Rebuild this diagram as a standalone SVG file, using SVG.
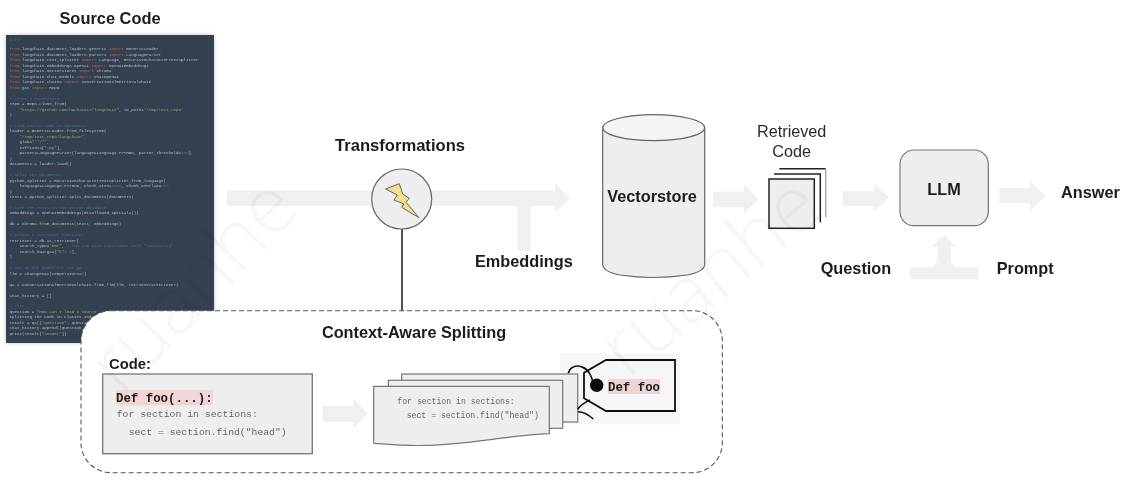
<svg xmlns="http://www.w3.org/2000/svg" width="1129" height="480" viewBox="0 0 1129 480">
<defs>
<style>
.b{font-family:"Liberation Sans",Arial,sans-serif;font-weight:700;font-size:16.3px;fill:#1c1c1c}
.r{font-family:"Liberation Sans",Arial,sans-serif;font-size:16.2px;fill:#2a2a2a}
.m{font-family:"Liberation Mono","Courier New",monospace;fill:#666}
.mb{font-family:"Liberation Mono","Courier New",monospace;font-weight:700;font-size:12.4px;fill:#1c1c1c}
.arrow{fill:#f0f0f0;stroke:none}
.page{fill:#eeeeee;stroke:#777;stroke-width:1.2}
.c text{font-family:"Liberation Mono",monospace;font-size:4.15px;fill:#b9bec5}
.c .k{fill:#b9634e}
.c .h{fill:#46709e}
.c .s{fill:#98ab72}
.wm{font-family:"Open Sans","Liberation Sans",sans-serif;font-weight:300;font-size:80px;fill:#000;fill-opacity:.035}
</style>
<filter id="soft" x="-5%" y="-5%" width="110%" height="110%"><feGaussianBlur stdDeviation="0.3"/></filter>
<filter id="page-soft" filterUnits="userSpaceOnUse" x="0" y="0" width="1129" height="480"><feGaussianBlur stdDeviation="0.35"/></filter>
<filter id="shadow" x="-5%" y="-5%" width="110%" height="110%"><feGaussianBlur stdDeviation="2"/></filter>
</defs>
<rect width="1129" height="480" fill="#fff"/>
<g filter="url(#page-soft)">

<g id="source-code">
<text class="b" x="110" y="23.5" text-anchor="middle" style="font-size:16.4px">Source Code</text>
<rect x="6" y="35" width="208" height="308" fill="#999" opacity=".6" filter="url(#shadow)"/>
<rect x="6" y="35" width="208" height="308" fill="#323f50"/>
<g class="c" filter="url(#soft)">
<circle cx="11" cy="39.5" r="1.1" fill="none" stroke="#5a6675" stroke-width=".5"/><circle cx="15" cy="39.5" r="1.1" fill="none" stroke="#5a6675" stroke-width=".5"/><circle cx="19" cy="39.5" r="1.1" fill="none" stroke="#5a6675" stroke-width=".5"/>
<text x="9.5" y="50.3"><tspan class="k">from</tspan> langchain.document_loaders.generic <tspan class="k">import</tspan> GenericLoader</text>
<text x="9.5" y="55.8"><tspan class="k">from</tspan> langchain.document_loaders.parsers <tspan class="k">import</tspan> LanguageParser</text>
<text x="9.5" y="61.2"><tspan class="k">from</tspan> langchain.text_splitter <tspan class="k">import</tspan> Language, RecursiveCharacterTextSplitter</text>
<text x="9.5" y="66.7"><tspan class="k">from</tspan> langchain.embeddings.openai <tspan class="k">import</tspan> OpenAIEmbeddings</text>
<text x="9.5" y="72.2"><tspan class="k">from</tspan> langchain.vectorstores <tspan class="k">import</tspan> Chroma</text>
<text x="9.5" y="77.7"><tspan class="k">from</tspan> langchain.chat_models <tspan class="k">import</tspan> ChatOpenAI</text>
<text x="9.5" y="83.1"><tspan class="k">from</tspan> langchain.chains <tspan class="k">import</tspan> ConversationalRetrievalChain</text>
<text x="9.5" y="88.6"><tspan class="k">from</tspan> git <tspan class="k">import</tspan> Repo</text>
<text x="9.5" y="99.5" class="h"># Clone a repository</text>
<text x="9.5" y="105">repo = Repo.clone_from(</text>
<text x="19.5" y="110.5"><tspan class="s">"https://github.com/hwchase17/langchain"</tspan>, to_path=<tspan class="s">'/tmp/test_repo'</tspan></text>
<text x="9.5" y="116">)</text>
<text x="9.5" y="126.9" class="h"># Load source code as documents</text>
<text x="9.5" y="132.4">loader = GenericLoader.from_filesystem(</text>
<text x="19.5" y="137.8" class="s">"/tmp/test_repo/langchain",</text>
<text x="19.5" y="143.3">glob=<tspan class="s">"**/*"</tspan>,</text>
<text x="19.5" y="148.8">suffixes=[<tspan class="s">".py"</tspan>],</text>
<text x="19.5" y="154.3">parser=LanguageParser(language=Language.PYTHON, parser_threshold=<tspan class="h">500</tspan>),</text>
<text x="9.5" y="159.7">)</text>
<text x="9.5" y="165.2">documents = loader.load()</text>
<text x="9.5" y="176.1" class="h"># Split the documents</text>
<text x="9.5" y="181.6">python_splitter = RecursiveCharacterTextSplitter.from_language(</text>
<text x="19.5" y="187.1">language=Language.PYTHON, chunk_size=<tspan class="h">2000</tspan>, chunk_overlap=<tspan class="h">200</tspan></text>
<text x="9.5" y="192.5">)</text>
<text x="9.5" y="198">texts = python_splitter.split_documents(documents)</text>
<text x="9.5" y="209" class="h"># Save the texts in the vector database</text>
<text x="9.5" y="214.4">embeddings = OpenAIEmbeddings(disallowed_special=())</text>
<text x="9.5" y="225.3">db = Chroma.from_documents(texts, embeddings)</text>
<text x="9.5" y="236.3" class="h"># Create a retriever function</text>
<text x="9.5" y="241.8">retriever = db.as_retriever(</text>
<text x="19.5" y="247.2">search_type=<tspan class="s">"mmr"</tspan>,  <tspan class="h"># You can also experiment with "similarity"</tspan></text>
<text x="19.5" y="252.7">search_kwargs={<tspan class="s">"k"</tspan>: <tspan class="h">8</tspan>},</text>
<text x="9.5" y="258.2">)</text>
<text x="9.5" y="269" class="h"># Set up the model for the QA</text>
<text x="9.5" y="274.5">llm = ChatOpenAI(temperature=<tspan class="h">0</tspan>)</text>
<text x="9.5" y="285.5">qa = ConversationalRetrievalChain.from_llm(llm, retriever=retriever)</text>
<text x="9.5" y="296.5">chat_history = []</text>
<text x="9.5" y="307.4" class="h"># Test</text>
<text x="9.5" y="312.9">question = <tspan class="s">"How can I load a source</tspan></text>
<text x="9.5" y="318.4">splitting the code in classes and</text>
<text x="9.5" y="323.8">result = qa({<tspan class="s">"question"</tspan>: question</text>
<text x="9.5" y="329.3">chat_history.append((question,</text>
<text x="9.5" y="334.7">print(result[<tspan class="s">"answer"</tspan>])</text>
</g>
</g>

<g id="context-aware-splitting">
<rect x="81" y="310.7" width="641.3" height="162" rx="30" fill="#fff" stroke="#555" stroke-width="1.1" stroke-dasharray="5 3"/>
<text class="b" x="414" y="337.7" text-anchor="middle">Context-Aware Splitting</text>
<text class="b" x="109" y="369.3" style="font-size:14.8px">Code:</text>
</g>

<g id="connectors">
<path class="arrow" d="M227 190.5H555V182.7L570 198.2L555 212.3V205.7H536Q530.7 205.7 530.7 211V250.7H517.3V211Q517.3 205.7 512 205.7H227Z"/>
<path class="arrow" d="M713 191.7H744V184L758 199L744 214V206.7H713Z"/>
<path class="arrow" d="M842.7 191H874V183L889 197.5L874 212V206H842.7Z"/>
<path class="arrow" d="M999.3 188.3H1030V181L1045.7 196L1030 211V203.3H999.3Z"/>
<path class="arrow" d="M944.3 235L956 246.7H950.7V258Q950.7 267.3 960 267.3H978.3V279H910V267.3H928.5Q937.7 267.3 937.7 258V246.7H931.7Z"/>
<path class="arrow" d="M322.7 406H353.3V399L367.7 414L353.3 428.7V421.7H322.7Z"/>
</g>

<g id="transformations">
<text class="b" x="400" y="150.7" text-anchor="middle" style="font-size:16.6px">Transformations</text>
<line x1="402" y1="229" x2="402" y2="311" stroke="#555" stroke-width="2"/>
<circle cx="401.7" cy="199" r="30" fill="#eeeeee" stroke="#666" stroke-width="1.2"/>
<path d="M385.7 189L399.3 183.7L402.7 194L409.3 198.3L406 202.3L419 217.7L401.7 207.3L404 204L394 200L397.3 195Z" fill="#f5e08e" stroke="#666" stroke-width="1"/>
</g>

<g id="embeddings"><text class="b" x="475" y="267">Embeddings</text></g>

<g id="vectorstore">
<path d="M602.7 127.7V265Q604 272 620 275Q653.7 280 687 275Q703.5 272 704.7 265V127.7" fill="#eeeeee" stroke="#666" stroke-width="1.2"/>
<ellipse cx="653.7" cy="127.7" rx="51" ry="13" fill="#f4f4f4" stroke="#666" stroke-width="1.2"/>
<text class="b" x="652" y="201.7" text-anchor="middle">Vectorstore</text>
</g>

<g id="retrieved-code">
<text class="r" x="791.7" y="136.7" text-anchor="middle">Retrieved</text>
<text class="r" x="791.7" y="157.3" text-anchor="middle">Code</text>
<path d="M779.3 168.7H825.7" fill="none" stroke="#222" stroke-width="1.4"/>
<path d="M825.7 168.7V217.3" fill="none" stroke="#8fa878" stroke-width="1.2"/>
<path d="M774 174H820.3V222.3" fill="none" stroke="#222" stroke-width="1.5"/>
<rect x="769" y="179" width="45.3" height="49.3" fill="#eeeeee" stroke="#222" stroke-width="1.5"/>
</g>

<g id="llm">
<rect x="900" y="150" width="88.3" height="75.7" rx="14" fill="#eeeeee" stroke="#777" stroke-width="1.2"/>
<text class="b" x="944" y="195" text-anchor="middle">LLM</text>
</g>
<g id="answer"><text class="b" x="1061" y="198.3">Answer</text></g>
<g id="question"><text class="b" x="820.7" y="274">Question</text></g>
<g id="prompt"><text class="b" x="996.7" y="274">Prompt</text></g>

<g id="code-box">
<rect x="102.7" y="374" width="209.6" height="79.7" fill="#eeeeee" stroke="#777" stroke-width="1.3"/>
<rect x="116" y="390" width="96.7" height="15.3" fill="#f0d6d6"/>
<text class="mb" x="116" y="402">Def foo(...):</text>
<text class="m" x="116.7" y="416.7" style="font-size:9.8px">for section in sections:</text>
<text class="m" x="128.7" y="435" style="font-size:9.75px">sect = section.find("head")</text>
</g>
<g id="split-pages">
<rect x="560" y="353.3" width="120" height="71" fill="#f6f6f6"/>
<rect class="page" x="401.7" y="374" width="176" height="48"/>
<rect class="page" x="388.3" y="380.3" width="174.4" height="48"/>
<path class="page" d="M373.7 386.3H549.3V433.7C500 436 470 445 420 445.5C400 445.7 385 444 373.7 443.3Z"/>
<text class="m" x="397.3" y="404" style="font-size:8.17px">for section in sections:</text>
<text class="m" x="406.7" y="418.3" style="font-size:8.17px">sect = section.find("head")</text>
</g>
<g id="tag">
<path d="M568.3 373.3C570 366 577 365 582 367C588 369 592 376 593.3 385" fill="none" stroke="#111" stroke-width="1.6"/>
<path d="M606 360H675V411H606L584 398.3V372.7Z" fill="#f6f6f6" stroke="#111" stroke-width="1.8"/>
<path d="M582 367C588 369 592 376 593.3 385" fill="none" stroke="#111" stroke-width="1.6"/>
<circle cx="596.7" cy="385.3" r="6.7" fill="#111"/>
<path d="M577.7 409.3C581 404 586 402 590 400" fill="none" stroke="#111" stroke-width="1.6"/>
<path d="M578 411.7C584 412 589 415 593.3 419" fill="none" stroke="#111" stroke-width="1.6"/>
<rect x="608" y="379" width="52" height="15" fill="#eed5d3"/>
<text class="mb" x="608" y="391">Def foo</text>
</g>

<text class="wm" transform="translate(122 397) rotate(-46)">ruanhe</text>
<text class="wm" transform="translate(628 380) rotate(-40)">ruanhe</text>
</g>
</svg>
